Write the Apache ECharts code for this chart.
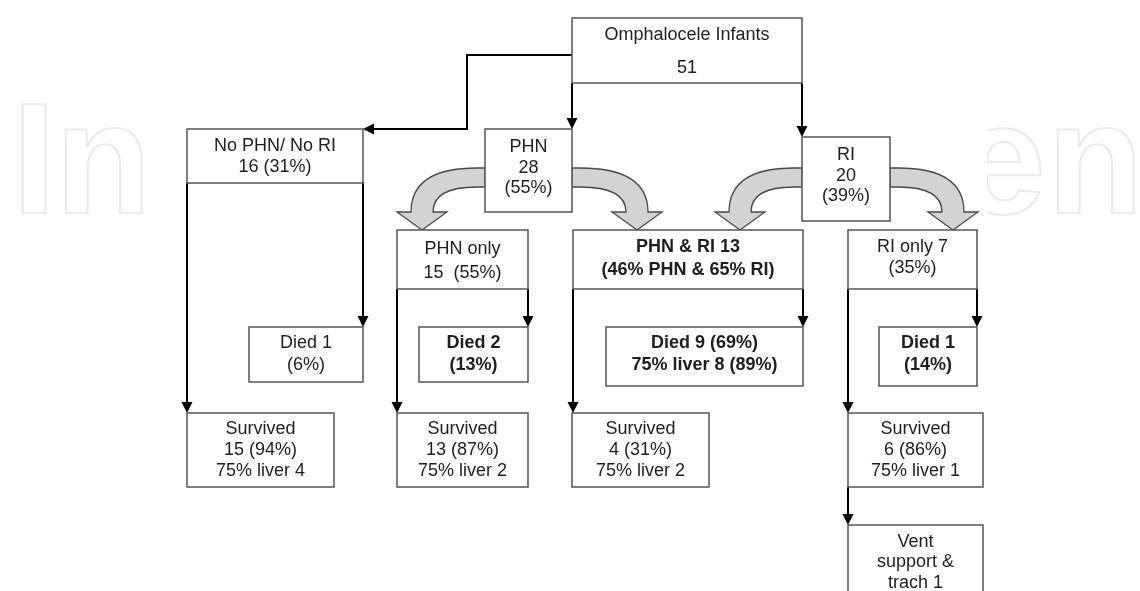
<!DOCTYPE html>
<html>
<head>
<meta charset="utf-8">
<script src="https://cdn.jsdelivr.net/npm/echarts@6/dist/echarts.min.js"></script>
<style>html,body{margin:0;padding:0;background:#fff}#c{width:1140px;height:591px}</style>
</head>
<body>
<div id="c"></div>
<script>
// ---- content (texts of each box) ----
const nodeTexts = [
  ['Omphalocele Infants', '51'],
  ['No PHN/ No RI', '16 (31%)'],
  ['PHN', '28', '(55%)'],
  ['RI', '20', '(39%)'],
  ['PHN only', '15  (55%)'],
  ['PHN & RI 13', '(46% PHN & 65% RI)'],
  ['RI only 7', '(35%)'],
  ['Died 1', '(6%)'],
  ['Died 2', '(13%)'],
  ['Died 9 (69%)', '75% liver 8 (89%)'],
  ['Died 1', '(14%)'],
  ['Survived', '15 (94%)', '75% liver 4'],
  ['Survived', '13 (87%)', '75% liver 2'],
  ['Survived', '4 (31%)', '75% liver 2'],
  ['Survived', '6 (86%)', '75% liver 1'],
  ['Vent', 'support &', 'trach 1']
];
const watermarkLetters = ['I', 'n', 'e', 'n'];

// ---- layout (positions in the diagram's own coordinate space) ----
const boxLayout = [
  {x1:572, y1:18,  x2:802, y2:83,  ty:51.5,  lh:33},
  {x1:187, y1:129, x2:363, y2:183, ty:156.5, lh:21},
  {x1:485, y1:129, x2:572, y2:212, ty:168,   lh:20.5},
  {x1:802, y1:137, x2:890, y2:221, ty:176,   lh:20.5},
  {x1:397, y1:230, x2:528, y2:289, ty:261,   lh:24},
  {x1:573, y1:230, x2:803, y2:289, ty:258.5, lh:23, bold:true},
  {x1:848, y1:230, x2:977, y2:289, ty:257.5, lh:21},
  {x1:249, y1:327, x2:363, y2:382, ty:354,   lh:22},
  {x1:419, y1:327, x2:528, y2:382, ty:354,   lh:22, bold:true},
  {x1:606, y1:327, x2:803, y2:386, ty:354,   lh:22, bold:true},
  {x1:879, y1:327, x2:977, y2:386, ty:354,   lh:22, bold:true},
  {x1:187, y1:413, x2:334, y2:487, ty:450,   lh:21},
  {x1:397, y1:413, x2:528, y2:487, ty:450,   lh:21},
  {x1:572, y1:413, x2:709, y2:487, ty:450,   lh:21},
  {x1:848, y1:413, x2:983, y2:487, ty:450,   lh:21},
  {x1:848, y1:525, x2:983, y2:610, ty:562.5, lh:20.5}
];
const connectors = [
  [[572,55],[467,55],[467,129],[363,129]],
  [[572,83],[572,129]],
  [[802,83],[802,137]],
  [[363,183],[363,327]],
  [[187,183],[187,413]],
  [[528,289],[528,327]],
  [[397,289],[397,413]],
  [[803,289],[803,327]],
  [[573,289],[573,413]],
  [[977,289],[977,327]],
  [[848,289],[848,413]],
  [[848,487],[848,525]]
];
const bentArrows = [
  {xs:485, xc:422, d:-1},
  {xs:572, xc:637, d:1},
  {xs:802, xc:740, d:-1},
  {xs:890, xc:953, d:1}
];
const bentY = {top:168, bottom:187, base:212, tip:230};
const watermarkX = [12, 55, 958, 1047];

const FONT = '"Liberation Sans", Arial, Helvetica, sans-serif';
const chart = echarts.init(document.getElementById('c'), null, {renderer:'canvas'});

function boxRender(params, api) {
  const b = boxLayout[params.dataIndex];
  const p1 = api.coord([api.value(0), api.value(1)]);
  const p2 = api.coord([api.value(2), api.value(3)]);
  const c = api.coord([(b.x1 + b.x2) / 2, b.ty]);
  return {
    type: 'group',
    children: [
      {type:'rect', shape:{x:p1[0], y:p1[1], width:p2[0]-p1[0], height:p2[1]-p1[1]},
       style:{fill:'#fff', stroke:'#555', lineWidth:1.5}},
      {type:'text', style:{
        text: nodeTexts[params.dataIndex].join('\n'),
        x: c[0], y: c[1],
        align:'center', verticalAlign:'middle',
        textAlign:'center', textVerticalAlign:'middle',
        lineHeight: b.lh,
        fill:'#1e1e1e',
        font: (b.bold ? 'bold ' : '') + '18px ' + FONT
      }}
    ]
  };
}

function connRender(params, api) {
  const pts = connectors[params.dataIndex].map(p => api.coord(p));
  const n = pts.length;
  const a = pts[n-2], b = pts[n-1];
  const dx = b[0]-a[0], dy = b[1]-a[1];
  const len = Math.sqrt(dx*dx + dy*dy);
  const ux = dx/len, uy = dy/len;
  const L = 11, W = 5.5;
  const base = [b[0]-ux*L, b[1]-uy*L];
  const linePts = pts.slice(0, n-1).concat([base]);
  return {
    type:'group',
    children:[
      {type:'polyline', shape:{points:linePts}, style:{stroke:'#000', lineWidth:2, fill:null}},
      {type:'polygon', shape:{points:[b, [base[0]-uy*W, base[1]+ux*W], [base[0]+uy*W, base[1]-ux*W]]},
       style:{fill:'#000'}}
    ]
  };
}

function bentRender(params, api) {
  const a = bentArrows[params.dataIndex];
  const d = a.d;
  const xo = a.xc + d*11, xi = a.xc - d*11;
  const P = (x, y) => { const p = api.coord([x, y]); return p[0].toFixed(1) + ' ' + p[1].toFixed(1); };
  const t = bentY.top, bt = bentY.bottom, bs = bentY.base, tp = bentY.tip;
  const path = 'M' + P(a.xs, t) + ' L' + P(a.xs + d*8, t) +
    ' Q' + P(xo, t) + ' ' + P(xo, bs) +
    ' L' + P(a.xc + d*25, bs) + ' L' + P(a.xc, tp) + ' L' + P(a.xc - d*25, bs) +
    ' L' + P(xi, bs) + ' Q' + P(xi, bt) + ' ' + P(a.xs + d*8, bt) +
    ' L' + P(a.xs, bt) + ' Z';
  return {type:'path', shape:{pathData:path}, style:{fill:'#d3d3d3', stroke:'#4a4a4a', lineWidth:1.3}};
}

const graphics = watermarkLetters.map((ch, i) => ({
  type:'text', z:0, x:watermarkX[i], y:90,
  style:{text:ch, font:'bold 158px ' + FONT, fill:'rgba(255,255,255,0)', stroke:'#ebebeb', lineWidth:2}
}));
graphics.push({type:'rect', z:1, shape:{x:184, y:0, width:803, height:591}, style:{fill:'#fff'}});

const option = {
  animation:false,
  backgroundColor:'#fff',
  grid:{left:0, right:0, top:0, bottom:0},
  xAxis:{type:'value', min:0, max:1140, show:false},
  yAxis:{type:'value', min:0, max:591, inverse:true, show:false},
  graphic: graphics,
  series:[
    {type:'custom', z:3, renderItem:bentRender, data:bentArrows.map(a => [a.xs, bentY.top]), silent:true},
    {type:'custom', z:4, renderItem:connRender, data:connectors.map(c => c[0]), silent:true},
    {type:'custom', z:5, renderItem:boxRender, data:boxLayout.map(b => [b.x1, b.y1, b.x2, b.y2]), silent:true}
  ]
};
chart.setOption(option);
</script>
</body>
</html>
